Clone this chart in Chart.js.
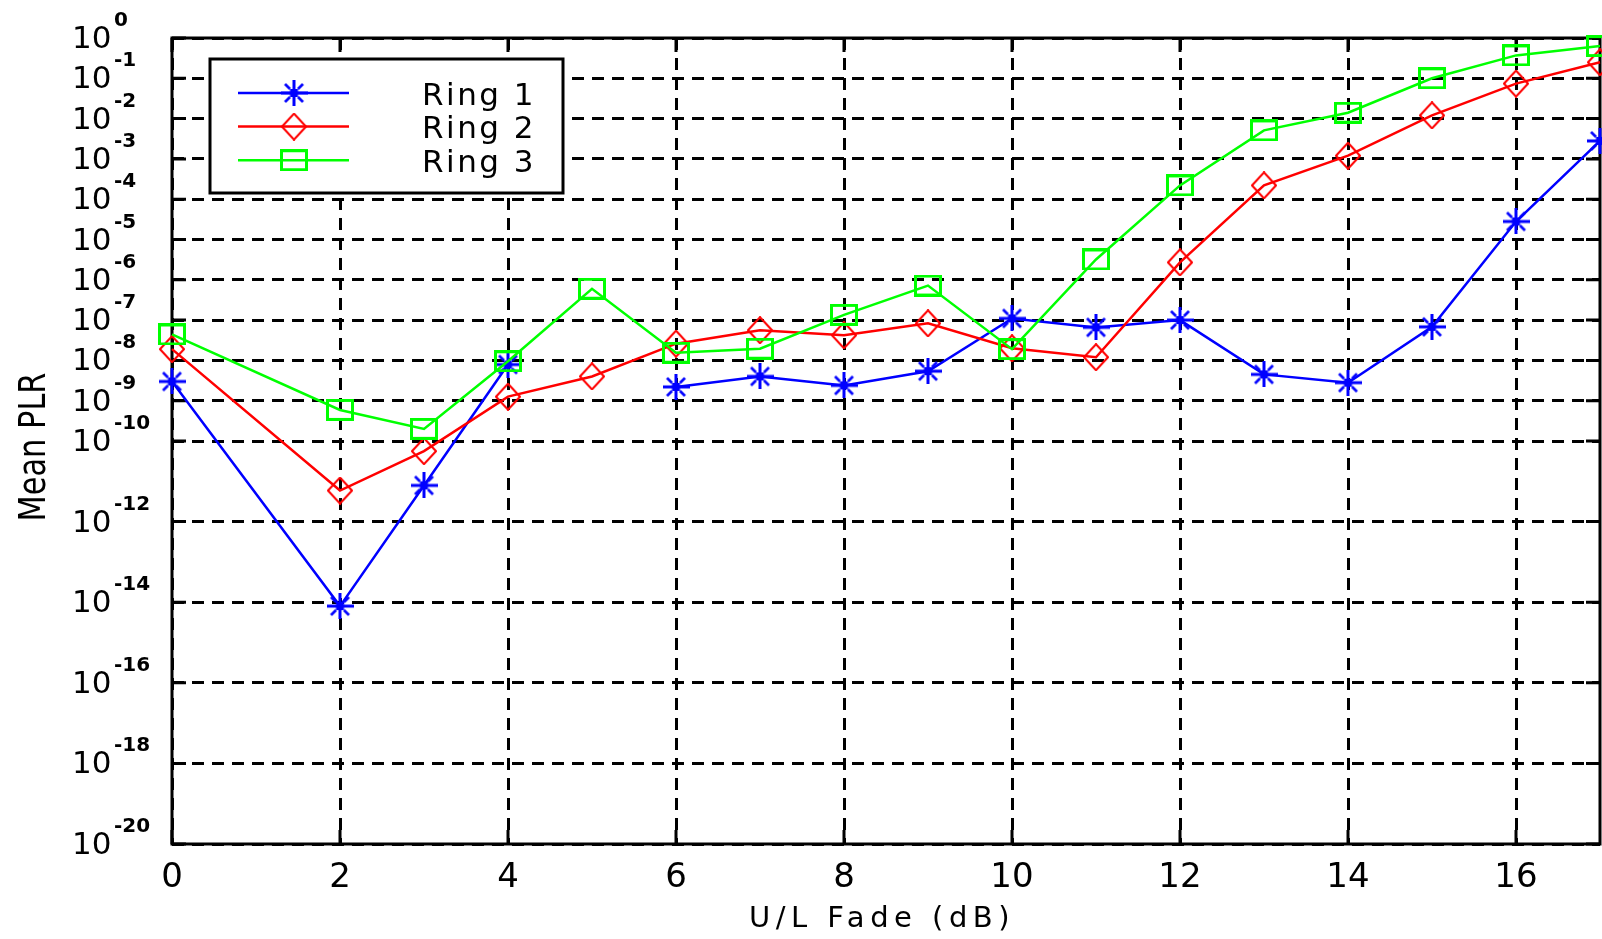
<!DOCTYPE html>
<html lang="en">
  <head>
    <meta charset="UTF-8" />
    <title>Mean PLR vs U/L Fade</title>
    <script src="https://cdn.jsdelivr.net/npm/chart.js@4.4.1/dist/chart.umd.min.js"></script>
    <style>
      html,
      body {
        margin: 0;
        padding: 0;
        background: #fff;
      }
    </style>
  </head>
  <body>
    <canvas id="plrChart" width="1602" height="939"></canvas>

    <script>
      // U/L fade in dB (no measurement at 1 dB)
      var fadeDb = [0, 2, 3, 4, 5, 6, 7, 8, 9, 10, 11, 12, 13, 14, 15, 16, 17];

      // mean packet loss ratio per ring, null = no result
      var ring1 = [3.0e-9, 8.0e-15, 7.9e-12, 7.9e-9, null, 2.2e-9, 4.0e-9, 2.4e-9, 5.4e-9,
                   1.1e-7, 6.6e-8, 1.0e-7, 4.5e-9, 2.8e-9, 6.8e-8, 2.8e-5, 2.8e-3];
      var ring2 = [1.9e-8, 5.9e-12, 5.6e-11, 1.26e-9, 4.0e-9, 2.6e-8, 5.6e-8, 4.2e-8, 8.3e-8,
                   2.0e-8, 1.2e-8, 2.7e-6, 2.2e-4, 1.2e-3, 1.2e-2, 7.4e-2, 0.25];
      var ring3 = [4.4e-8, 5.9e-10, 2.0e-10, 9.5e-9, 6.0e-7, 1.55e-8, 1.95e-8, 1.35e-7, 7.2e-7,
                   1.9e-8, 3.2e-6, 2.2e-4, 5.1e-3, 1.4e-2, 0.1, 0.37, 0.63];

      var seriesNames = ["Ring 1", "Ring 2", "Ring 3"];
      var seriesColors = ["#0000ff", "#ff0000", "#00ff00"];

      var xTicks = [0, 2, 4, 6, 8, 10, 12, 14, 16];
      var yTickExps = [0, -1, -2, -3, -4, -5, -6, -7, -8, -9, -10, -12, -14, -16, -18, -20];

      var fam = '"DejaVu Sans", "Liberation Sans", sans-serif';

      // marker bitmaps, shared by the plot and the legend
      function markerCanvas(w, h, paint) {
        var c = document.createElement("canvas");
        c.width = w;
        c.height = h;
        paint(c.getContext("2d"), w, h);
        return c;
      }

      var starMarker = markerCanvas(27, 26, function (g, w, h) {
        var cx = w / 2, cy = h / 2;
        g.strokeStyle = seriesColors[0];
        g.fillStyle = seriesColors[0];
        g.lineWidth = 3;
        g.beginPath();
        g.moveTo(cx, 0); g.lineTo(cx, h);
        g.moveTo(0, cy); g.lineTo(w, cy);
        g.stroke();
        g.lineWidth = 2.5;
        g.beginPath();
        [[1, 1], [1, -1], [-1, 1], [-1, -1]].forEach(function (d) {
          g.moveTo(cx + d[0] * 4, cy + d[1] * 4);
          g.lineTo(cx + d[0] * 9, cy + d[1] * 9);
        });
        g.stroke();
        g.fillRect(cx - 4, cy - 4, 8, 8);
      });

      var diamondMarker = markerCanvas(26, 28, function (g, w, h) {
        g.strokeStyle = seriesColors[1];
        g.lineWidth = 2;
        g.beginPath();
        g.moveTo(w / 2, 1);
        g.lineTo(w - 1, h / 2);
        g.lineTo(w / 2, h - 1);
        g.lineTo(1, h / 2);
        g.closePath();
        g.stroke();
      });

      var squareMarker = markerCanvas(28, 22, function (g, w, h) {
        g.strokeStyle = seriesColors[2];
        g.lineWidth = 3;
        g.strokeRect(1.5, 1.5, w - 3, h - 3);
      });

      var markers = [starMarker, diamondMarker, squareMarker];

      function points(values) {
        return fadeDb.map(function (x, i) {
          return { x: x, y: values[i] };
        });
      }

      function series(i, values) {
        return {
          label: seriesNames[i],
          data: points(values),
          borderColor: seriesColors[i],
          backgroundColor: seriesColors[i],
          borderWidth: 2.5,
          pointStyle: markers[i],
          pointRadius: 8,
          tension: 0,
          spanGaps: false,
          clip: false,
          order: 3 - i,
        };
      }

      // frame, ticks, labels and the boxed legend
      var decorations = {
        id: "decorations",
        beforeDatasetsDraw: function (chart) {
          var ctx = chart.ctx, a = chart.chartArea;
          var xs = chart.scales.x, ys = chart.scales.y;
          ctx.save();
          ctx.setLineDash([]);
          ctx.strokeStyle = "#000";
          ctx.lineWidth = 3;
          ctx.strokeRect(a.left, a.top, a.right - a.left, a.bottom - a.top);
          ctx.beginPath();
          xTicks.forEach(function (v) {
            var px = xs.getPixelForValue(v);
            ctx.moveTo(px, a.top); ctx.lineTo(px, a.top + 14);
            ctx.moveTo(px, a.bottom); ctx.lineTo(px, a.bottom - 14);
          });
          yTickExps.forEach(function (e) {
            var py = ys.getPixelForValue(Math.pow(10, e));
            ctx.moveTo(a.left, py); ctx.lineTo(a.left + 14, py);
            ctx.moveTo(a.right, py); ctx.lineTo(a.right - 14, py);
          });
          ctx.stroke();
          ctx.restore();
        },
        afterDraw: function (chart) {
          var ctx = chart.ctx, a = chart.chartArea;
          var xs = chart.scales.x, ys = chart.scales.y;
          ctx.save();
          ctx.fillStyle = "#000";
          ctx.textBaseline = "alphabetic";

          // y tick labels: 10 with raised exponent
          ctx.textAlign = "left";
          yTickExps.forEach(function (e) {
            var py = ys.getPixelForValue(Math.pow(10, e));
            ctx.font = "31px " + fam;
            ctx.fillText("10", 72, py + 10);
            ctx.font = "bold 20px " + fam;
            ctx.fillText(String(e), 114, py - 12);
          });

          // x tick labels
          ctx.textAlign = "center";
          ctx.font = "34px " + fam;
          xTicks.forEach(function (v) {
            ctx.fillText(String(v), xs.getPixelForValue(v), a.bottom + 43);
          });

          // x axis title
          ctx.font = "29px " + fam;
          ctx.letterSpacing = "5.5px";
          ctx.fillText("U/L Fade (dB)", (a.left + a.right) / 2 - 4, a.bottom + 83);
          ctx.letterSpacing = "0px";

          // y axis title, narrow
          ctx.save();
          ctx.translate(45, (a.top + a.bottom) / 2 + 6);
          ctx.rotate(-Math.PI / 2);
          ctx.scale(0.8, 1);
          ctx.font = "38px " + fam;
          ctx.fillText("Mean PLR", 0, 0);
          ctx.restore();

          // legend box
          var lx = a.left + 38, ly = a.top + 21, lw = 353, lh = 134;
          ctx.fillStyle = "#fff";
          ctx.fillRect(lx, ly, lw, lh);
          ctx.strokeStyle = "#000";
          ctx.lineWidth = 3;
          ctx.strokeRect(lx, ly, lw, lh);
          chart.data.datasets.forEach(function (ds, i) {
            var ry = ly + 34 + i * 33.6;
            ctx.strokeStyle = ds.borderColor;
            ctx.lineWidth = 2.5;
            ctx.beginPath();
            ctx.moveTo(lx + 28, ry);
            ctx.lineTo(lx + 139, ry);
            ctx.stroke();
            var m = ds.pointStyle;
            ctx.drawImage(m, lx + 84 - m.width / 2, ry - m.height / 2);
            ctx.fillStyle = "#000";
            ctx.textAlign = "left";
            ctx.font = "31px " + fam;
            ctx.letterSpacing = "2.5px";
            ctx.fillText(ds.label, lx + 212, ry + 11.5);
            ctx.letterSpacing = "0px";
          });
          ctx.restore();
        },
      };

      var gridStyle = { color: "#000", lineWidth: 3, drawTicks: false };

      new Chart(document.getElementById("plrChart"), {
        type: "line",
        data: {
          datasets: [series(0, ring1), series(1, ring2), series(2, ring3)],
        },
        options: {
          responsive: false,
          animation: false,
          devicePixelRatio: 1,
          layout: { autoPadding: false, padding: { left: 172, top: 38, right: 2, bottom: 95 } },
          plugins: { legend: { display: false }, tooltip: { enabled: false } },
          scales: {
            x: {
              type: "linear",
              min: 0,
              max: 17,
              afterBuildTicks: function (scale) {
                scale.ticks = xTicks.map(function (v) {
                  return { value: v };
                });
              },
              ticks: { display: false },
              grid: gridStyle,
              border: { display: false, dash: [12, 8] },
            },
            y: {
              type: "logarithmic",
              min: 1e-20,
              max: 1,
              afterBuildTicks: function (scale) {
                scale.ticks = yTickExps.map(function (e) {
                  return { value: Math.pow(10, e) };
                });
              },
              ticks: { display: false },
              grid: gridStyle,
              border: { display: false, dash: [12, 8] },
            },
          },
        },
        plugins: [decorations],
      });
    </script>
  </body>
</html>
